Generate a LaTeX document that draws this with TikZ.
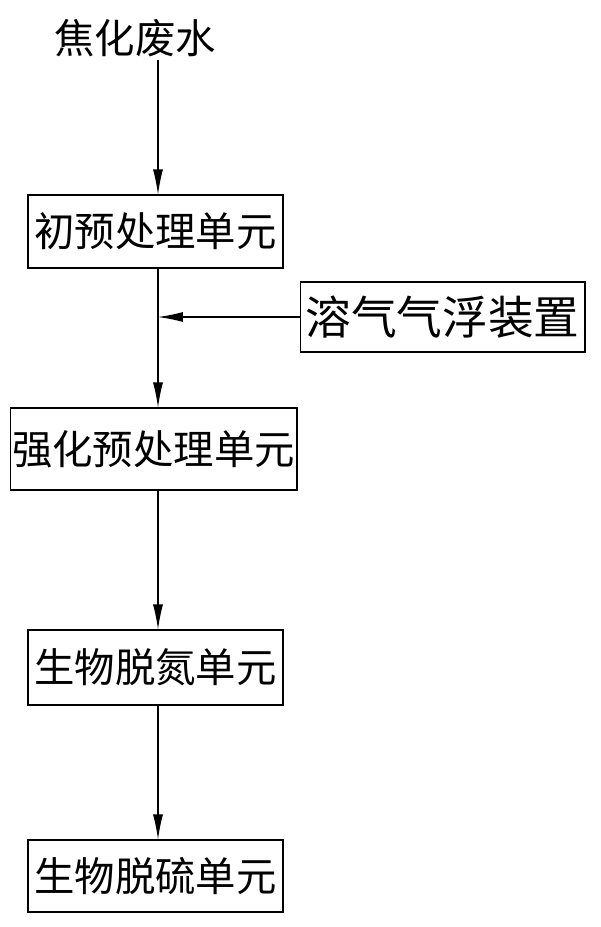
\documentclass[tikz,border=0pt]{standalone}
\usepackage{fontspec}
\newfontfamily\cjk{Noto Sans CJK SC}
\usetikzlibrary{arrows.meta}
\begin{document}
\begin{tikzpicture}[x=0.02cm, y=-0.02cm, >={Latex[length=0.5cm,width=0.2cm]},
    unitbox/.style={draw, semithick, inner sep=0pt, font=\cjk\fontsize{23}{26}\selectfont},
    flow/.style={->, semithick}]

\useasboundingbox (0,0) rectangle (600,927);

% input and units
\node[font=\cjk\fontsize{23}{26}\selectfont] (water) at (135,38) {焦化废水};
\node[unitbox, minimum width=5.1cm, minimum height=1.46cm] (pre) at (155.5,231.5) {初预处理单元};
\node[unitbox, minimum width=5.7cm, minimum height=1.4cm, font=\cjk\fontsize{26}{28}\selectfont] (daf) at (442.5,317) {溶气气浮装置};
\node[unitbox, minimum width=5.74cm, minimum height=1.64cm] (strong) at (153.5,449) {强化预处理单元};
\node[unitbox, minimum width=5.1cm, minimum height=1.5cm] (denit) at (155.5,667.5) {生物脱氮单元};
\node[unitbox, minimum width=5.1cm, minimum height=1.44cm] (desul) at (155.5,876) {生物脱硫单元};

\coordinate (join) at (158,317);

% connectors
\draw[flow] (158,60) -- (158,|-pre.north);
\draw[flow] (158,|-pre.south) -- (158,|-strong.north);
\draw[flow] (daf.west) -- (join);
\draw[flow] (158,|-strong.south) -- (158,|-denit.north);
\draw[flow] (158,|-denit.south) -- (158,|-desul.north);

\end{tikzpicture}
\end{document}
